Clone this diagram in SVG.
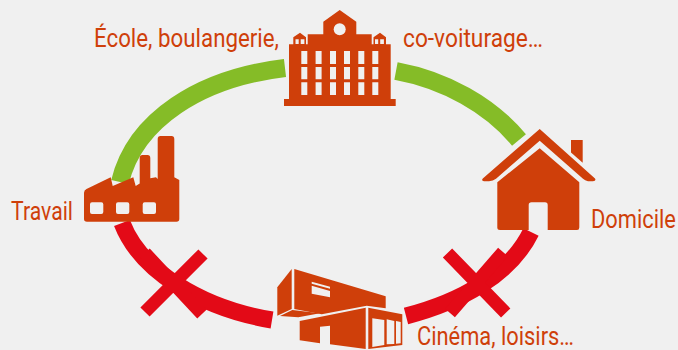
<svg xmlns="http://www.w3.org/2000/svg" width="678" height="350" viewBox="0 0 678 350">
<style>
.o{fill:#cf3f0a}
.w{fill:#f0f0f0}
.g{fill:none;stroke:#85bc27;stroke-width:18}
.r{fill:none;stroke:#e30a17;stroke-width:17}
.x{fill:none;stroke:#e30a17;stroke-width:13}
text{font-family:"Roboto","Liberation Sans",sans-serif;font-size:26px;fill:#cf3f0a}
</style>
<rect width="678" height="350" fill="#f0f0f0"/>
<g id="connectors">
<path class="g" d="M120,182C135,120 200,78 285,68"/>
<path class="g" d="M396,71C445,80 490,105 519,140"/>
<path class="r" d="M122,223C140,270 200,308 272,320"/>
<path class="r" d="M531,232C510,275 460,302 406,316"/>
<path class="x" d="M145,253L202,314M203,254L145,312"/>
<path class="x" d="M447.500,253L505.700,313M503,252L450,313"/>
</g>
<g id="ecole">
<path class="o" d="M284,106V99H289V44.300H293.300V37.300L300,32.700L306,37.300V44.300H307.700V34.300H323.300V21.700L339.700,10L356.300,21.700V34.300H371.700V44.300H373.500V37.300L380,32.700L386,37.300V44.300H390.700V99H395.700V106Z"/>
<circle class="w" cx="339.700" cy="29.300" r="6"/>
<path class="w" d="M301.300,51h6v13h-6zM301.300,67h6v12.300h-6zM301.300,82.300h6v12.700h-6zM315.600,51h6v13h-6zM315.600,67h6v12.300h-6zM315.600,82.300h6v12.700h-6zM330,51h6v13h-6zM330,67h6v12.300h-6zM330,82.300h6v12.700h-6zM344,51h6v13h-6zM344,67h6v12.300h-6zM344,82.300h6v12.700h-6zM358.300,51h6v13h-6zM358.300,67h6v12.300h-6zM358.300,82.300h6v12.700h-6zM372.300,51h6v13h-6zM372.300,67h6v12.300h-6zM372.300,82.300h6v12.700h-6zM295.500,39.300h3.200v4.700h-3.200zM300.700,39.300h3.700v4.700h-3.700zM375,39.300h3.200v4.700h-3.200zM380.200,39.300h3.700v4.700h-3.700z"/>
<text x="94" y="47" textLength="185" lengthAdjust="spacingAndGlyphs">École, boulangerie,</text>
<text x="403" y="47" textLength="140" lengthAdjust="spacingAndGlyphs">co-voiturage…</text>
</g>
<g id="domicile">
<path class="o" d="M539.700,129L595,178.500Q596.500,181 593,181.300L588,181.300Q585,180.500 583,178.800L539.700,140.700L496,178.800Q493,181 489,181.300H484Q481,181 482.800,178.500Z"/>
<path class="o" d="M571,140H582.700V162.700L571,152.500Z"/>
<path class="o" d="M539.700,148.300L579.300,182.300V227.500Q579.300,230 577,230H547.700V205Q547.700,202.300 545,202.300H531.500Q528.700,202.300 528.700,205V230H500Q497.300,230 497.300,227.500V182.300Z"/>
<text transform="translate(591,228) scale(.84,1)">Domicile</text>
</g>
<g id="travail">
<path class="o" fill-rule="evenodd" d="M84,193Q84,190 86.500,189L110.700,177.300L112.700,186L133.300,177.300L135.700,186L139.700,183.500V158Q139.700,155 142.500,155H147.500Q150.300,155 150.300,158V178.300L156,177.300L157.700,179V139Q157.700,136 160.500,136H171.500Q174.300,136 174.300,139V177.300L179.300,180V219Q179.300,221.700 176.500,221.700H87Q84,221.700 84,219ZM92,202.300Q90,202.300 90,204.300V212Q90,214 92,214H101.300Q103.300,214 103.300,212V204.300Q103.300,202.300 101.300,202.300ZM118,202.300Q116,202.300 116,204.300V212Q116,214 118,214H127.300Q129.300,214 129.300,212V204.300Q129.300,202.300 127.300,202.300ZM144.700,202.300Q142.700,202.300 142.700,204.300V212Q142.700,214 144.700,214H154Q156,214 156,212V204.300Q156,202.300 154,202.300Z"/>
<text x="11" y="220" textLength="62" lengthAdjust="spacingAndGlyphs">Travail</text>
</g>
<g id="cinema">
<path class="o" d="M277.300,287.300L291.700,269V309L277.300,315.700Z"/>
<path class="o" fill-rule="evenodd" d="M294.300,269L385.700,296.300V308.300L366.700,305.700L321.700,314.300L294.300,309ZM311.700,281.700V283.700L330,288.700V286.700ZM311.700,285.700V293.700L330,297.300V291Z"/>
<path class="o" d="M280,316L292.300,310L320,313.300L298.300,317.300Z"/>
<path class="o" d="M299.700,321L365.700,307.700V349L330,344.300V325.700L320,326.700V343.300L299.700,340.300Z"/>
<path class="o" fill-rule="evenodd" d="M368.300,307.700L402.300,314.300V345L368.300,349ZM372.300,318.300V347L384.300,345V320ZM386.700,319.300V344.300L394.300,344V321ZM396,321V343.700L400.700,343.300V322Z"/>
<text x="417" y="345" textLength="157" lengthAdjust="spacingAndGlyphs">Cinéma, loisirs…</text>
</g>
</svg>
